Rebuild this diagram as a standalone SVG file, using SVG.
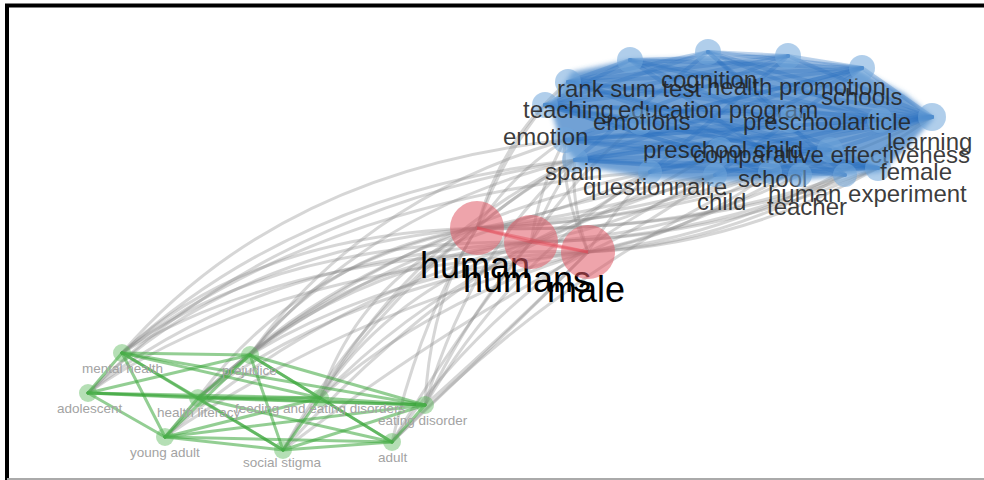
<svg xmlns="http://www.w3.org/2000/svg" width="984" height="480" viewBox="0 0 984 480">
<defs>
<style>
.ge{fill:none;stroke:#8a8a8a;stroke-opacity:0.35;stroke-width:3;stroke-linecap:round}
.be{stroke:#2a72bf;stroke-opacity:0.3;stroke-width:4;stroke-linecap:round}
.gr{stroke:#3aa53a;stroke-opacity:0.55;stroke-width:3;stroke-linecap:round}
.re{stroke:#e3303f;stroke-opacity:0.4;stroke-width:3}
.bn{fill:#6fa6da;fill-opacity:0.55}
.rn{fill:#e05a66;fill-opacity:0.55}
.gn{fill:#5cb85c;fill-opacity:0.45}
.bl{font-family:"Liberation Sans",Arial,sans-serif;font-size:24px;fill:#222;fill-opacity:0.88}
.rl{font-family:"Liberation Sans",Arial,sans-serif;font-size:36px;fill:#000}
.gl{font-family:"Liberation Sans",Arial,sans-serif;font-size:13.5px;fill:#a3a3a3}
</style>
<filter id="soft" x="-10%" y="-20%" width="120%" height="140%"><feGaussianBlur stdDeviation="2.5"/></filter>
</defs>
<rect x="0" y="0" width="984" height="480" fill="#fff"/>

<g id="connectors">
<!-- gray edges green -> red/blue -->
<path class="ge" d="M122,353 Q250,235 477,228"/>
<path class="ge" d="M122,353 Q270,240 531,242"/>
<path class="ge" d="M122,353 Q300,245 588,252"/>
<path class="ge" d="M122,353 Q300,190 575,160"/>
<path class="ge" d="M122,353 Q280,170 565,140"/>
<path class="ge" d="M122,353 Q330,195 650,172"/>
<path class="ge" d="M88,393 Q230,250 477,228"/>
<path class="ge" d="M88,393 Q250,260 531,242"/>
<path class="ge" d="M88,393 Q270,265 588,252"/>
<path class="ge" d="M88,393 Q270,210 575,160"/>
<path class="ge" d="M250,355 Q330,250 477,228"/>
<path class="ge" d="M250,355 Q360,260 531,242"/>
<path class="ge" d="M250,355 Q390,270 588,252"/>
<path class="ge" d="M250,355 Q370,210 575,160"/>
<path class="ge" d="M250,355 Q430,220 715,175"/>
<path class="ge" d="M250,355 Q360,200 565,140"/>
<path class="ge" d="M198,398 Q300,260 477,228"/>
<path class="ge" d="M198,398 Q330,270 531,242"/>
<path class="ge" d="M198,398 Q360,280 588,252"/>
<path class="ge" d="M198,398 Q380,230 650,172"/>
<path class="ge" d="M320,398 Q360,280 477,228"/>
<path class="ge" d="M320,398 Q390,290 531,242"/>
<path class="ge" d="M320,398 Q430,300 588,252"/>
<path class="ge" d="M320,398 Q410,240 575,160"/>
<path class="ge" d="M320,398 Q460,250 715,175"/>
<path class="ge" d="M425,405 Q430,300 477,228"/>
<path class="ge" d="M425,405 Q470,310 531,242"/>
<path class="ge" d="M425,405 Q520,320 588,252"/>
<path class="ge" d="M425,405 Q510,260 650,172"/>
<path class="ge" d="M425,405 Q470,250 575,160"/>
<path class="ge" d="M165,437 Q290,290 477,228"/>
<path class="ge" d="M165,437 Q320,300 531,242"/>
<path class="ge" d="M165,437 Q350,310 588,252"/>
<path class="ge" d="M283,450 Q360,310 477,228"/>
<path class="ge" d="M283,450 Q400,320 531,242"/>
<path class="ge" d="M283,450 Q440,330 588,252"/>
<path class="ge" d="M283,450 Q400,260 575,160"/>
<path class="ge" d="M392,442 Q420,320 477,228"/>
<path class="ge" d="M392,442 Q460,330 531,242"/>
<path class="ge" d="M392,442 Q500,340 588,252"/>
<path class="ge" d="M392,442 Q510,270 715,175"/>
<path class="ge" d="M392,442 Q560,270 770,172"/>
<!-- gray edges red -> blue -->
<path class="ge" d="M477,228 Q500,160 545,105"/>
<path class="ge" d="M477,228 Q510,175 565,140"/>
<path class="ge" d="M477,228 Q520,190 575,160"/>
<path class="ge" d="M477,228 Q560,215 650,172"/>
<path class="ge" d="M477,228 Q600,215 715,175"/>
<path class="ge" d="M477,228 Q630,225 770,172"/>
<path class="ge" d="M477,228 Q680,235 845,175"/>
<path class="ge" d="M477,228 Q700,235 878,168"/>
<path class="ge" d="M477,228 Q720,220 932,117"/>
<path class="ge" d="M477,228 Q660,215 830,150"/>
<path class="ge" d="M477,228 Q500,140 568,82"/>
<path class="ge" d="M531,242 Q540,185 565,140"/>
<path class="ge" d="M531,242 Q550,195 575,160"/>
<path class="ge" d="M531,242 Q590,215 650,172"/>
<path class="ge" d="M531,242 Q630,225 715,175"/>
<path class="ge" d="M531,242 Q680,235 800,175"/>
<path class="ge" d="M531,242 Q700,240 845,175"/>
<path class="ge" d="M531,242 Q720,240 878,168"/>
<path class="ge" d="M531,242 Q620,210 720,150"/>
<path class="ge" d="M531,242 Q570,180 640,122"/>
<path class="ge" d="M588,252 Q570,200 575,160"/>
<path class="ge" d="M588,252 Q610,215 650,172"/>
<path class="ge" d="M588,252 Q650,225 715,175"/>
<path class="ge" d="M588,252 Q690,235 770,172"/>
<path class="ge" d="M588,252 Q720,245 845,175"/>
<path class="ge" d="M588,252 Q740,245 878,168"/>
<path class="ge" d="M588,252 Q760,235 932,117"/>
<path class="ge" d="M588,252 Q560,190 565,140"/>
<path class="ge" d="M588,252 Q700,230 830,150"/>
<!-- green edges -->
<line class="gr" x1="122" y1="353" x2="250" y2="355"/>
<line class="gr" x1="122" y1="353" x2="88" y2="393"/>
<line class="gr" x1="122" y1="353" x2="198" y2="398"/>
<line class="gr" x1="122" y1="353" x2="320" y2="398"/>
<line class="gr" x1="122" y1="353" x2="425" y2="405"/>
<line class="gr" x1="122" y1="353" x2="165" y2="437"/>
<line class="gr" x1="122" y1="353" x2="283" y2="450"/>
<line class="gr" x1="250" y1="355" x2="88" y2="393"/>
<line class="gr" x1="250" y1="355" x2="198" y2="398"/>
<line class="gr" x1="250" y1="355" x2="320" y2="398"/>
<line class="gr" x1="250" y1="355" x2="425" y2="405"/>
<line class="gr" x1="250" y1="355" x2="165" y2="437"/>
<line class="gr" x1="250" y1="355" x2="283" y2="450"/>
<line class="gr" x1="250" y1="355" x2="392" y2="442"/>
<line class="gr" x1="88" y1="393" x2="198" y2="398"/>
<line class="gr" x1="88" y1="393" x2="320" y2="398"/>
<line class="gr" x1="88" y1="393" x2="425" y2="405"/>
<line class="gr" x1="88" y1="393" x2="165" y2="437"/>
<line class="gr" x1="198" y1="398" x2="320" y2="398"/>
<line class="gr" x1="198" y1="398" x2="425" y2="405"/>
<line class="gr" x1="198" y1="398" x2="165" y2="437"/>
<line class="gr" x1="198" y1="398" x2="283" y2="450"/>
<line class="gr" x1="198" y1="398" x2="392" y2="442"/>
<line class="gr" x1="320" y1="398" x2="425" y2="405"/>
<line class="gr" x1="320" y1="398" x2="165" y2="437"/>
<line class="gr" x1="320" y1="398" x2="283" y2="450"/>
<line class="gr" x1="320" y1="398" x2="392" y2="442"/>
<line class="gr" x1="425" y1="405" x2="165" y2="437"/>
<line class="gr" x1="425" y1="405" x2="283" y2="450"/>
<line class="gr" x1="425" y1="405" x2="392" y2="442"/>
<line class="gr" x1="165" y1="437" x2="283" y2="450"/>
<line class="gr" x1="165" y1="437" x2="392" y2="442"/>
<line class="gr" x1="283" y1="450" x2="392" y2="442"/>
<!-- red edges -->
<line class="re" x1="477" y1="228" x2="531" y2="242"/>
<line class="re" x1="531" y1="242" x2="588" y2="252"/>
<line class="re" x1="477" y1="228" x2="588" y2="252"/>
<!-- blue mass base -->
<path d="M550,106 L572,72 L630,60 L708,58 L788,60 L860,70 L905,94 L934,118 L905,150 L880,172 L800,180 L715,182 L650,178 L580,166 L560,140 Z" fill="#3a7ec5" fill-opacity="0.72" filter="url(#soft)"/>
<!-- blue edges -->
<line class="be" x1="568" y1="82" x2="708" y2="52"/>
<line class="be" x1="568" y1="82" x2="788" y2="56"/>
<line class="be" x1="568" y1="82" x2="862" y2="68"/>
<line class="be" x1="568" y1="82" x2="630" y2="60"/>
<line class="be" x1="568" y1="82" x2="880" y2="120"/>
<line class="be" x1="568" y1="82" x2="932" y2="117"/>
<line class="be" x1="568" y1="82" x2="830" y2="150"/>
<line class="be" x1="568" y1="82" x2="878" y2="168"/>
<line class="be" x1="708" y1="52" x2="788" y2="56"/>
<line class="be" x1="708" y1="52" x2="862" y2="68"/>
<line class="be" x1="708" y1="52" x2="545" y2="105"/>
<line class="be" x1="708" y1="52" x2="880" y2="120"/>
<line class="be" x1="708" y1="52" x2="932" y2="117"/>
<line class="be" x1="708" y1="52" x2="575" y2="160"/>
<line class="be" x1="708" y1="52" x2="845" y2="175"/>
<line class="be" x1="788" y1="56" x2="862" y2="68"/>
<line class="be" x1="788" y1="56" x2="545" y2="105"/>
<line class="be" x1="788" y1="56" x2="630" y2="60"/>
<line class="be" x1="788" y1="56" x2="565" y2="140"/>
<line class="be" x1="788" y1="56" x2="932" y2="117"/>
<line class="be" x1="788" y1="56" x2="650" y2="172"/>
<line class="be" x1="862" y1="68" x2="545" y2="105"/>
<line class="be" x1="862" y1="68" x2="630" y2="60"/>
<line class="be" x1="862" y1="68" x2="932" y2="117"/>
<line class="be" x1="862" y1="68" x2="565" y2="140"/>
<line class="be" x1="862" y1="68" x2="575" y2="160"/>
<line class="be" x1="862" y1="68" x2="715" y2="175"/>
<line class="be" x1="545" y1="105" x2="630" y2="60"/>
<line class="be" x1="545" y1="105" x2="880" y2="120"/>
<line class="be" x1="545" y1="105" x2="932" y2="117"/>
<line class="be" x1="545" y1="105" x2="830" y2="150"/>
<line class="be" x1="545" y1="105" x2="878" y2="168"/>
<line class="be" x1="545" y1="105" x2="770" y2="172"/>
<line class="be" x1="630" y1="60" x2="880" y2="120"/>
<line class="be" x1="630" y1="60" x2="932" y2="117"/>
<line class="be" x1="630" y1="60" x2="878" y2="168"/>
<line class="be" x1="630" y1="60" x2="800" y2="175"/>
<line class="be" x1="640" y1="122" x2="932" y2="117"/>
<line class="be" x1="640" y1="122" x2="862" y2="68"/>
<line class="be" x1="640" y1="122" x2="878" y2="168"/>
<line class="be" x1="790" y1="120" x2="565" y2="140"/>
<line class="be" x1="790" y1="120" x2="575" y2="160"/>
<line class="be" x1="880" y1="120" x2="565" y2="140"/>
<line class="be" x1="880" y1="120" x2="575" y2="160"/>
<line class="be" x1="880" y1="120" x2="650" y2="172"/>
<line class="be" x1="565" y1="140" x2="932" y2="117"/>
<line class="be" x1="565" y1="140" x2="830" y2="150"/>
<line class="be" x1="565" y1="140" x2="878" y2="168"/>
<line class="be" x1="565" y1="140" x2="845" y2="175"/>
<line class="be" x1="932" y1="117" x2="575" y2="160"/>
<line class="be" x1="932" y1="117" x2="650" y2="172"/>
<line class="be" x1="932" y1="117" x2="715" y2="175"/>
<line class="be" x1="932" y1="117" x2="720" y2="150"/>
<line class="be" x1="720" y1="150" x2="878" y2="168"/>
<line class="be" x1="720" y1="150" x2="545" y2="105"/>
<line class="be" x1="575" y1="160" x2="878" y2="168"/>
<line class="be" x1="575" y1="160" x2="845" y2="175"/>
<line class="be" x1="575" y1="160" x2="800" y2="175"/>
<line class="be" x1="575" y1="160" x2="830" y2="150"/>
<line class="be" x1="878" y1="168" x2="650" y2="172"/>
<line class="be" x1="878" y1="168" x2="715" y2="175"/>
<line class="be" x1="770" y1="172" x2="545" y2="105"/>
<line class="be" x1="770" y1="172" x2="932" y2="117"/>
<line class="be" x1="650" y1="172" x2="862" y2="68"/>
<line class="be" x1="845" y1="175" x2="568" y2="82"/>
<line class="be" x1="640" y1="122" x2="545" y2="105"/>
<line class="be" x1="790" y1="120" x2="708" y2="52"/>
</g>

<g id="n-rank-sum-test"><circle class="bn" cx="568" cy="82" r="13"/><text class="bl" x="557" y="97">rank sum test</text></g>
<g id="n-cognition"><circle class="bn" cx="708" cy="52" r="13"/><text class="bl" x="661" y="88">cognition</text></g>
<g id="n-health-promotion"><circle class="bn" cx="788" cy="56" r="13"/><text class="bl" x="707" y="95">health promotion</text></g>
<g id="n-schools"><circle class="bn" cx="862" cy="68" r="13"/><text class="bl" x="821" y="105">schools</text></g>
<g id="n-teaching"><circle class="bn" cx="545" cy="105" r="13"/><text class="bl" x="523" y="118">teaching</text></g>
<g id="n-education-program"><circle class="bn" cx="630" cy="60" r="13"/><text class="bl" x="618" y="118">education program</text></g>
<g id="n-emotions"><circle class="bn" cx="640" cy="122" r="13"/><text class="bl" x="593" y="130">emotions</text></g>
<g id="n-preschool"><circle class="bn" cx="790" cy="120" r="13"/><text class="bl" x="743" y="130">preschool</text></g>
<g id="n-article"><circle class="bn" cx="880" cy="120" r="13"/><text class="bl" x="847" y="130">article</text></g>
<g id="n-emotion"><circle class="bn" cx="565" cy="140" r="13"/><text class="bl" x="503" y="145">emotion</text></g>
<g id="n-learning"><circle class="bn" cx="932" cy="117" r="14"/><text class="bl" x="887" y="150">learning</text></g>
<g id="n-preschool-child"><circle class="bn" cx="720" cy="150" r="13"/><text class="bl" x="643" y="158">preschool child</text></g>
<g id="n-comparative-effectiveness"><circle class="bn" cx="830" cy="150" r="13"/><text class="bl" x="693" y="163">comparative effectiveness</text></g>
<g id="n-spain"><circle class="bn" cx="575" cy="160" r="13"/><text class="bl" x="545" y="180">spain</text></g>
<g id="n-female"><circle class="bn" cx="878" cy="168" r="13"/><text class="bl" x="880" y="180">female</text></g>
<g id="n-school"><circle class="bn" cx="770" cy="172" r="12"/><text class="bl" x="738" y="187">school</text></g>
<g id="n-questionnaire"><circle class="bn" cx="650" cy="172" r="12"/><text class="bl" x="583" y="195">questionnaire</text></g>
<g id="n-human-experiment"><circle class="bn" cx="845" cy="175" r="12"/><text class="bl" x="768" y="202">human experiment</text></g>
<g id="n-child"><circle class="bn" cx="715" cy="175" r="12"/><text class="bl" x="697" y="210">child</text></g>
<g id="n-teacher"><circle class="bn" cx="800" cy="175" r="12"/><text class="bl" x="767" y="215">teacher</text></g>

<g id="n-human"><circle class="rn" cx="477" cy="228" r="27"/><text class="rl" x="420" y="278">human</text></g>
<g id="n-humans"><circle class="rn" cx="531" cy="242" r="27"/><text class="rl" x="463" y="292">humans</text></g>
<g id="n-male"><circle class="rn" cx="588" cy="252" r="27"/><text class="rl" x="547" y="302">male</text></g>

<g id="n-mental-health"><circle class="gn" cx="122" cy="353" r="9"/><text class="gl" x="82" y="373">mental health</text></g>
<g id="n-prejudice"><circle class="gn" cx="250" cy="355" r="9"/><text class="gl" x="222" y="375">prejudice</text></g>
<g id="n-adolescent"><circle class="gn" cx="88" cy="393" r="9"/><text class="gl" x="57" y="413">adolescent</text></g>
<g id="n-health-literacy"><circle class="gn" cx="198" cy="398" r="9"/><text class="gl" x="157" y="417">health literacy</text></g>
<g id="n-feeding"><circle class="gn" cx="320" cy="398" r="9"/><text class="gl" x="235" y="413">feeding and eating disorders</text></g>
<g id="n-eating-disorder"><circle class="gn" cx="425" cy="405" r="9"/><text class="gl" x="378" y="425">eating disorder</text></g>
<g id="n-young-adult"><circle class="gn" cx="165" cy="437" r="9"/><text class="gl" x="130" y="457">young adult</text></g>
<g id="n-social-stigma"><circle class="gn" cx="283" cy="450" r="9"/><text class="gl" x="243" y="467">social stigma</text></g>
<g id="n-adult"><circle class="gn" cx="392" cy="442" r="9"/><text class="gl" x="378" y="462">adult</text></g>

<g id="frame">
<line x1="5" y1="5.5" x2="984" y2="5.5" stroke="#000" stroke-width="4"/>
<line x1="7" y1="4" x2="7" y2="480" stroke="#000" stroke-width="4"/>
<line x1="7" y1="479" x2="984" y2="479" stroke="#aaa" stroke-width="2"/>
</g>
</svg>
